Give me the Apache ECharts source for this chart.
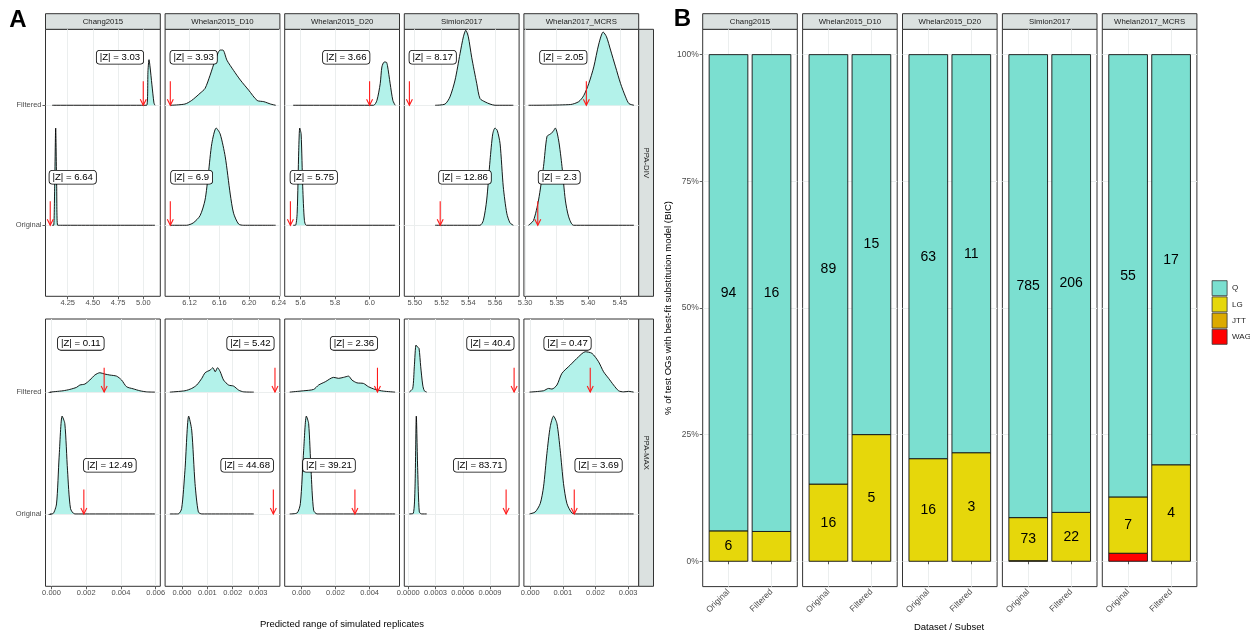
<!DOCTYPE html>
<html><head><meta charset="utf-8">
<script src="https://cdn.jsdelivr.net/npm/echarts@6/dist/echarts.min.js"></script>
<style>html,body{margin:0;padding:0;background:#fff}#c{width:1250px;height:635px}</style>
</head><body><div id="c"></div>
<script>
// ---------------- DATA ----------------
const datasets = ['Chang2015','Whelan2015_D10','Whelan2015_D20','Simion2017','Whelan2017_MCRS'];
const subsets = ['Original','Filtered'];
const metrics = ['PPA-DIV','PPA-MAX'];
const models = ['Q','LG','JTT','WAG'];

// Panel B: counts of best-fit models, per dataset [Original, Filtered]
const countQ   = [[94,16],[89,15],[63,11],[785,206],[55,17]];
const countLG  = [[6,1],[16,5],[16,3],[73,22],[7,4]];
const countJTT = [[0,0],[0,0],[0,0],[1,0],[0,0]];
const countWAG = [[0,0],[0,0],[0,0],[0,0],[1,0]];
const pctTicks = [0,0.25,0.5,0.75,1];

// Panel A: |Z| scores and observed values
const divZOriginal = [6.64, 6.9, 5.75, 12.86, 2.3];
const divZFiltered = [3.03, 3.93, 3.66, 8.17, 2.05];
const maxZOriginal = [12.49, 44.68, 39.21, 83.71, 3.69];
const maxZFiltered = [0.11, 5.42, 2.36, 40.4, 0.47];
const divObsOriginal = [4.077, 6.094, 5.542, 5.519, 5.320];
const divObsFiltered = [5.00, 6.094, 6.00, 5.496, 5.397];
const maxObsOriginal = [0.001862, 0.003599, 0.00314, 0.001077, 0.00135];
const maxObsFiltered = [0.003032, 0.003663, 0.004462, 0.001165, 0.00184];
const divLabelOriginal = [4.30, 6.1227, 5.677, 5.5375, 5.354];
const divLabelFiltered = [4.769, 6.1254, 5.865, 5.5134, 5.3605];
const maxLabelOriginal = [0.00336, 0.002567, 0.00162, 0.000787, 0.002095];
const maxLabelFiltered = [0.001689, 0.002698, 0.003082, 0.000904, 0.001144];

// axis scales / ticks
const divXRange = [[4.03,5.169],[6.087,6.2414],[5.509,6.173],[5.4922,5.5779],[5.298,5.480]];
const maxXRange = [[-0.000346,0.006265],[-0.000663,0.003857],[-0.000977,0.005754],[-0.0000441,0.00122],[-0.000193,0.003325]];
const divTicks = [[4.25,4.5,4.75,5.0],[6.12,6.16,6.2,6.24],[5.6,5.8,6.0],[5.5,5.52,5.54,5.56],[5.3,5.35,5.4,5.45]];
const maxTicks = [[0,0.002,0.004,0.006],[0,0.001,0.002,0.003],[0,0.002,0.004],[0,0.0003,0.0006,0.0009],[0,0.001,0.002,0.003]];
const divTickDigits = [2,2,1,2,2];
const maxTickDigits = [3,3,3,4,3];

// density ridges [x, height in ridge-spacing units]
const divChangO = [[4.097,0],[4.111,0],[4.121,0.32],[4.131,0.81],[4.141,0.32],[4.151,0],[5.116,0]];
const divChangF = [[4.097,0],[5.034,0],[5.047,0.29],[5.057,0.38],[5.066,0.33],[5.086,0.17],[5.106,0.02],[5.116,0]];
const divD10O = [[6.0942,0],[6.1159,0],[6.1249,0.02],[6.134,0.08],[6.1407,0.21],[6.1452,0.43],[6.1498,0.68],[6.1557,0.81],[6.1611,0.76],[6.1679,0.57],[6.1746,0.26],[6.1791,0.1],[6.1859,0.01],[6.1927,0],[6.2357,0]];
const divD10F = [[6.0942,0],[6.1136,0.01],[6.1227,0.04],[6.134,0.1],[6.1407,0.14],[6.1475,0.25],[6.1543,0.375],[6.1611,0.46],[6.1647,0.46],[6.1702,0.375],[6.1791,0.29],[6.1882,0.21],[6.1995,0.125],[6.2108,0.04],[6.2198,0.03],[6.2289,0.01],[6.2357,0]];
const divD20O = [[5.558,0],[5.5712,0],[5.581,0.1],[5.5902,0.625],[5.596,0.81],[5.604,0.76],[5.6133,0.32],[5.6231,0.04],[5.6346,0],[6.148,0]];
const divD20F = [[5.558,0],[6.0227,0],[6.0423,0.04],[6.0614,0.18],[6.0712,0.32],[6.0844,0.36],[6.096,0.36],[6.1035,0.33],[6.119,0.18],[6.1346,0.04],[6.148,0]];
const divSimO = [[5.5152,0],[5.5487,0],[5.5512,0.04],[5.5537,0.21],[5.5562,0.54],[5.5582,0.76],[5.5599,0.81],[5.5616,0.79],[5.5637,0.68],[5.5661,0.32],[5.5687,0.1],[5.5711,0.02],[5.5736,0]];
const divSimF = [[5.5152,0],[5.5226,0.01],[5.5263,0.07],[5.5301,0.21],[5.5338,0.43],[5.5363,0.57],[5.5381,0.625],[5.54,0.57],[5.5425,0.4],[5.5463,0.18],[5.5487,0.056],[5.5525,0.028],[5.5562,0.01],[5.5599,0],[5.5736,0]];
const divMcrsO = [[5.3053,0],[5.3132,0.04],[5.3212,0.21],[5.3291,0.49],[5.3346,0.74],[5.3398,0.76],[5.3441,0.78],[5.3478,0.81],[5.353,0.71],[5.3584,0.49],[5.3637,0.21],[5.369,0.07],[5.3769,0],[5.4725,0]];
const divMcrsF = [[5.3053,0],[5.3717,0.006],[5.3849,0.03],[5.3928,0.08],[5.4008,0.18],[5.4088,0.32],[5.4167,0.51],[5.4237,0.61],[5.429,0.57],[5.4354,0.46],[5.4433,0.32],[5.4513,0.18],[5.4592,0.07],[5.4645,0.014],[5.4725,0]];

const maxChangO = [[-0.000098,0],[0.000092,0.003],[0.000288,0.082],[0.000438,0.466],[0.000611,0.803],[0.000767,0.742],[0.000922,0.359],[0.001095,0.044],[0.001343,0],[0.005954,0]];
const maxChangF = [[-0.000098,0],[0.000669,0.011],[0.001055,0.022],[0.001441,0.039],[0.001631,0.058],[0.001919,0.066],[0.002207,0.099],[0.002496,0.14],[0.002784,0.159],[0.003072,0.148],[0.00336,0.14],[0.003746,0.131],[0.004035,0.099],[0.004323,0.044],[0.004703,0.027],[0.005089,0.011],[0.005476,0.002],[0.005954,0]];
const maxD10O = [[-0.000476,0],[-0.000147,0],[-0.000012,0.044],[0.000119,0.359],[0.000266,0.803],[0.000385,0.688],[0.000516,0.249],[0.000647,0.016],[0.000782,0],[0.002829,0]];
const maxD10F = [[-0.000476,0],[0.000119,0.011],[0.000385,0.03],[0.000583,0.058],[0.000782,0.113],[0.000913,0.159],[0.001111,0.181],[0.001218,0.2],[0.00131,0.167],[0.001401,0.2],[0.001508,0.167],[0.001639,0.099],[0.001837,0.058],[0.002036,0.049],[0.002234,0.016],[0.002433,0.002],[0.002829,0]];
const maxD20O = [[-0.000684,0],[-0.000251,0.008],[-0.000058,0.085],[0.000135,0.523],[0.000292,0.803],[0.000427,0.742],[0.000567,0.359],[0.000719,0.03],[0.000918,0],[0.005497,0]];
const maxD20F = [[-0.000684,0],[0.000135,0.011],[0.000719,0.022],[0.001012,0.058],[0.001404,0.085],[0.001889,0.121],[0.002181,0.113],[0.002474,0.121],[0.002766,0.131],[0.002965,0.099],[0.003257,0.076],[0.003643,0.071],[0.003936,0.044],[0.004327,0.022],[0.004813,0.008],[0.005497,0]];
const maxSimO = [[0.000011,0],[0.0000551,0.005],[0.0000739,0.222],[0.0000882,0.803],[0.0001036,0.359],[0.0001213,0.016],[0.0001477,0],[0.0002029,0]];
const maxSimF = [[0.000011,0],[0.0000485,0.03],[0.0000662,0.208],[0.0000849,0.386],[0.0000992,0.372],[0.000118,0.359],[0.0001367,0.208],[0.0001588,0.058],[0.0001764,0.011],[0.0002029,0]];
const maxMcrsO = [[-0.000021,0],[0.000153,0.016],[0.000307,0.085],[0.000408,0.222],[0.000512,0.496],[0.000613,0.715],[0.000715,0.803],[0.000819,0.742],[0.00092,0.523],[0.001021,0.249],[0.001126,0.085],[0.001279,0.008],[0.001433,0],[0.003169,0]];
const maxMcrsF = [[-0.000021,0],[0.000408,0.011],[0.000561,0.03],[0.000666,0.025],[0.000819,0.058],[0.000972,0.154],[0.001227,0.222],[0.001482,0.29],[0.001687,0.331],[0.001893,0.318],[0.002095,0.249],[0.002248,0.167],[0.002402,0.113],[0.002555,0.058],[0.002709,0.011],[0.002862,0.002],[0.003015,0.006],[0.003169,0]];

const divDensity = [[divChangO,divChangF],[divD10O,divD10F],[divD20O,divD20F],[divSimO,divSimF],[divMcrsO,divMcrsF]];
const maxDensity = [[maxChangO,maxChangF],[maxD10O,maxD10F],[maxD20O,maxD20F],[maxSimO,maxSimF],[maxMcrsO,maxMcrsF]];

// ---------------- CHART ----------------
const FONT = '"Liberation Sans", Arial, Helvetica, sans-serif';
const GRID_COL = '#ebeeee';
const STRIP_FILL = '#dbe1e0';
const BORDER = '#333333';
const TICK_TXT = '#4d4d4d';
const RIDGE_FILL = '#b3f2ea';
const modelColors = ['#7bdfd0', '#e6d70b', '#dcaa00', '#ff0000'];

const grids = [], xAxes = [], yAxes = [], series = [], graphics = [];

const A_LEFT = 45.5, A_W = 114.8, A_STEP = 119.6;
const rows = [
  {top: 29.3, h: 267, yr: [0.408, 2.633], xr: divXRange, ticks: divTicks, dig: divTickDigits, dens: divDensity,
   obs: [divObsOriginal, divObsFiltered], lab: [divLabelOriginal, divLabelFiltered], z: [divZOriginal, divZFiltered]},
  {top: 319, h: 267.3, yr: [0.406, 2.6], xr: maxXRange, ticks: maxTicks, dig: maxTickDigits, dens: maxDensity,
   obs: [maxObsOriginal, maxObsFiltered], lab: [maxLabelOriginal, maxLabelFiltered], z: [maxZOriginal, maxZFiltered]}
];

function arrowItem(params, api) {
  const x = api.value(0), b = api.value(1);
  const p0 = api.coord([x, b + 0.2]), p1 = api.coord([x, b]);
  return {type: 'group', children: [
    {type: 'line', shape: {x1: p0[0], y1: p0[1], x2: p1[0], y2: p1[1]}, style: {stroke: '#ff1a1a', lineWidth: 1.1}},
    {type: 'polyline', shape: {points: [[p1[0] - 3, p1[1] - 6], [p1[0], p1[1]], [p1[0] + 3, p1[1] - 6]]},
     style: {stroke: '#ff1a1a', lineWidth: 1.1, fill: null}}
  ]};
}
function zLabelItem(params, api) {
  const p = api.coord([api.value(0), api.value(1)]);
  return {type: 'text', x: p[0], y: p[1], style: {
    text: '|Z| = ' + api.value(2), fontSize: 9.6, fontFamily: FONT, fill: '#000',
    align: 'center', verticalAlign: 'middle', textAlign: 'center', textVerticalAlign: 'middle',
    backgroundColor: '#fff', borderColor: '#000', borderWidth: 0.8, borderRadius: 3, padding: [2, 3, 1, 3]}};
}

rows.forEach((row, r) => {
  datasets.forEach((ds, c) => {
    const gi = grids.length;
    grids.push({left: A_LEFT + c * A_STEP, top: row.top, width: A_W, height: row.h,
      show: true, borderColor: BORDER, borderWidth: 1, backgroundColor: 'transparent'});
    const d = row.dig[c];
    xAxes.push({gridIndex: gi, type: 'value', min: row.xr[c][0], max: row.xr[c][1],
      axisLine: {show: false},
      axisTick: {show: true, customValues: row.ticks[c], length: 3, lineStyle: {color: BORDER, width: 0.8}},
      axisLabel: {customValues: row.ticks[c], formatter: v => Number(v).toFixed(d), fontSize: 7.5,
        fontFamily: FONT, color: TICK_TXT, margin: 3},
      splitLine: {show: true, lineStyle: {color: GRID_COL, width: 1}}});
    yAxes.push({gridIndex: gi, type: 'value', min: row.yr[0], max: row.yr[1],
      axisLine: {show: false},
      axisTick: {show: c === 0, customValues: [1, 2], length: 3, lineStyle: {color: BORDER, width: 0.8}},
      axisLabel: {show: c === 0, customValues: [1, 2], formatter: v => subsets[Math.round(v) - 1],
        fontSize: 7.5, fontFamily: FONT, color: TICK_TXT, margin: 4},
      splitLine: {show: true, lineStyle: {color: GRID_COL, width: 1}}});
    // ridges
    [1, 0].forEach(s => {
      const base = s + 1;
      series.push({type: 'line', xAxisIndex: gi, yAxisIndex: gi, silent: true, z: 2,
        data: row.dens[c][s].map(p => [p[0], base + p[1]]),
        smooth: 0.25, symbol: 'none', lineStyle: {color: '#000', width: 0.9},
        areaStyle: {color: RIDGE_FILL, opacity: 1, origin: base}});
    });
    series.push({type: 'custom', xAxisIndex: gi, yAxisIndex: gi, silent: true, z: 4,
      data: [[row.obs[0][c], 1], [row.obs[1][c], 2]], renderItem: arrowItem});
    series.push({type: 'custom', xAxisIndex: gi, yAxisIndex: gi, silent: true, z: 5,
      data: [[row.lab[0][c], 1.4, row.z[0][c]], [row.lab[1][c], 2.4, row.z[1][c]]], renderItem: zLabelItem});
    if (r === 0) {
      graphics.push({type: 'rect', shape: {x: A_LEFT + c * A_STEP, y: 13.7, width: A_W, height: 15.6},
        style: {fill: STRIP_FILL, stroke: BORDER, lineWidth: 1}});
      graphics.push({type: 'text', x: A_LEFT + c * A_STEP + A_W / 2, y: 21.6, style: {text: ds, fontSize: 7.8,
        fontFamily: FONT, fill: '#1a1a1a', align: 'center', verticalAlign: 'middle', textAlign: 'center', textVerticalAlign: 'middle'}});
    }
  });
  const sx = A_LEFT + 4 * A_STEP + A_W;
  graphics.push({type: 'rect', shape: {x: sx, y: row.top, width: 14.8, height: row.h},
    style: {fill: STRIP_FILL, stroke: BORDER, lineWidth: 1}});
  graphics.push({type: 'text', x: sx + 7.4, y: row.top + row.h / 2, rotation: -Math.PI / 2, style: {text: metrics[r],
    fontSize: 7.8, fontFamily: FONT, fill: '#1a1a1a', align: 'center', verticalAlign: 'middle', textAlign: 'center', textVerticalAlign: 'middle'}});
});

// ---------------- Panel B ----------------
const B_LEFT = 702.7, B_W = 94.6, B_STEP = 99.9, B_TOP = 29.3, B_H = 557.3;
const countsByModel = [countQ, countLG, countJTT, countWAG];
const stackOrder = [3, 2, 1, 0]; // bottom -> top
const segData = models.map(() => datasets.map(() => []));
datasets.forEach((ds, j) => {
  [0, 1].forEach(s => {
    const total = countsByModel.reduce((a, m) => a + m[j][s], 0);
    let cum = 0;
    stackOrder.forEach(m => {
      const n = countsByModel[m][j][s];
      const lo = cum / total; cum += n; const hi = cum / total;
      if (n > 0) segData[m][j].push([s + 1, lo, hi, n]);
    });
  });
});

function barItemFactory(color) {
  return function (params, api) {
    const x = api.value(0), lo = api.value(1), hi = api.value(2), n = api.value(3);
    const a = api.coord([x - 0.45, hi]), b = api.coord([x + 0.45, lo]);
    const children = [{type: 'rect', shape: {x: a[0], y: a[1], width: b[0] - a[0], height: b[1] - a[1]},
      style: {fill: color, stroke: '#111', lineWidth: 0.9}}];
    if (n > 1) {
      const cpt = api.coord([x, (lo + hi) / 2]);
      children.push({type: 'text', x: cpt[0], y: cpt[1], style: {text: String(n), fontSize: 14, fontFamily: FONT,
        fill: '#000', align: 'center', verticalAlign: 'middle', textAlign: 'center', textVerticalAlign: 'middle'}});
    }
    return {type: 'group', children};
  };
}

datasets.forEach((ds, j) => {
  const gi = grids.length;
  const left = B_LEFT + j * B_STEP;
  grids.push({left, top: B_TOP, width: B_W, height: B_H, show: true, borderColor: BORDER, borderWidth: 1, backgroundColor: 'transparent'});
  xAxes.push({gridIndex: gi, type: 'value', min: 0.4, max: 2.6, axisLine: {show: false},
    axisTick: {show: true, customValues: [1, 2], length: 3, lineStyle: {color: BORDER, width: 0.8}},
    axisLabel: {customValues: [1, 2], formatter: v => subsets[Math.round(v) - 1], rotate: 45, fontSize: 8.5,
      fontFamily: FONT, color: TICK_TXT, margin: 4},
    splitLine: {show: true, lineStyle: {color: GRID_COL, width: 1}}});
  yAxes.push({gridIndex: gi, type: 'value', min: -0.05, max: 1.05, axisLine: {show: false},
    axisTick: {show: j === 0, customValues: pctTicks, length: 3, lineStyle: {color: BORDER, width: 0.8}},
    axisLabel: {show: j === 0, customValues: pctTicks, formatter: v => Math.round(v * 100) + '%', fontSize: 8.5,
      fontFamily: FONT, color: TICK_TXT, margin: 4},
    splitLine: {show: true, lineStyle: {color: GRID_COL, width: 1}}});
  stackOrder.forEach(m => {
    series.push({type: 'custom', name: models[m], xAxisIndex: gi, yAxisIndex: gi, z: 3, silent: true,
      itemStyle: {color: modelColors[m], borderColor: '#111', borderWidth: 0.9},
      data: segData[m][j], renderItem: barItemFactory(modelColors[m])});
  });
  graphics.push({type: 'rect', shape: {x: left, y: 13.7, width: B_W, height: 15.6},
    style: {fill: STRIP_FILL, stroke: BORDER, lineWidth: 1}});
  graphics.push({type: 'text', x: left + B_W / 2, y: 21.6, style: {text: ds, fontSize: 7.8, fontFamily: FONT,
    fill: '#1a1a1a', align: 'center', verticalAlign: 'middle', textAlign: 'center', textVerticalAlign: 'middle'}});
});

// titles
function txt(text, x, y, size, opts) {
  return Object.assign({type: 'text', x, y, style: Object.assign({text, fontSize: size, fontFamily: FONT, fill: '#000',
    align: 'center', verticalAlign: 'middle', textAlign: 'center', textVerticalAlign: 'middle'}, (opts && opts.style) || {})},
    (opts && opts.el) || {});
}
graphics.push(txt('A', 18, 20.5, 24, {style: {fontWeight: 'bold'}}));
graphics.push(txt('B', 682.5, 19.7, 24, {style: {fontWeight: 'bold'}}));
graphics.push(txt('Predicted range of simulated replicates', 342, 624, 9.5));
graphics.push(txt('Dataset / Subset', 949, 627, 9.5));
graphics.push(txt('% of test OGs with best-fit substitution model (BIC)', 668, 308, 9.5, {el: {rotation: Math.PI / 2}}));

const option = {
  animation: false,
  backgroundColor: '#ffffff',
  grid: grids, xAxis: xAxes, yAxis: yAxes, series,
  legend: {data: models, orient: 'vertical', left: 1211.7, top: 280.3, itemWidth: 15, itemHeight: 15, itemGap: 0.4,
    icon: 'rect', selectedMode: false, padding: 0,
    itemStyle: {borderColor: '#333', borderWidth: 0.8},
    textStyle: {fontSize: 8, fontFamily: FONT, color: '#1a1a1a'}},
  graphic: graphics
};
const chart = echarts.init(document.getElementById('c'));
chart.setOption(option);
</script>
</body></html>
